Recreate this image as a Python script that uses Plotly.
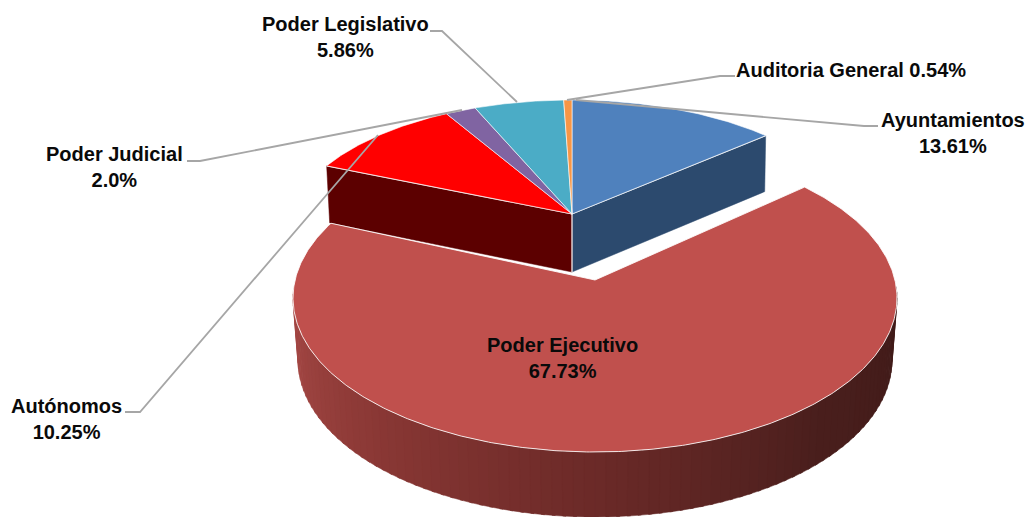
import numpy as np
import plotly.graph_objects as go

# ---- data (clockwise from the top) ----
categories = ["Ayuntamientos", "Poder Ejecutivo", "Autónomos", "Poder Judicial", "Poder Legislativo", "Auditoria General"]
values = [13.61, 67.73, 10.25, 2.0, 5.86, 0.54]
value_labels = ["13.61%", "67.73%", "10.25%", "2.0%", "5.86%", "0.54%"]
colors = ["#4f81bd", "#c0504d", "#ff0000", "#8064a2", "#4bacc6", "#f79646"]

# ---- drawing geometry (pixels) ----
BACK = dict(ax=572, ay=214, cx=572, cy=232, rx=283.5, ry=132)
FRONT = dict(ax=595, ay=280, cx=595, cy=298, rx=302, ry=154)
FRONT_BOTTOM = dict(cx=595, cy=360, rx=297, ry=157)
BACK_DEPTH = 57
EXPLODED = "Poder Ejecutivo"

label_pos = {
    "Ayuntamientos": (953, 133, "{}<br>{}"),
    "Poder Ejecutivo": (562, 358, "{}<br>{}"),
    "Autónomos": (66, 419, "{}<br>{}"),
    "Poder Judicial": (114, 167, "{}<br>{}"),
    "Poder Legislativo": (345, 37, "{}<br>{}"),
    "Auditoria General": (851, 70, "{} {}"),
}
leaders = [
    ([878, 864, 576], [126, 126, 100]),
    ([125, 140, 378], [412, 412, 135]),
    ([187, 200, 462], [161, 161, 110]),
    ([430, 442, 517], [31, 31, 102]),
    ([735, 720, 567], [76, 76, 100]),
]


def rim(phi_deg, g):
    """Where a ray leaving the apex at pie-angle phi meets the perspective ellipse."""
    phi = np.radians(phi_deg)
    dx, dy = np.sin(phi) * g["rx"], -np.cos(phi) * g["ry"]
    ox, oy = g["ax"] - g["cx"], g["ay"] - g["cy"]
    a = (dx / g["rx"]) ** 2 + (dy / g["ry"]) ** 2
    b = 2 * (ox * dx / g["rx"] ** 2 + oy * dy / g["ry"] ** 2)
    c = (ox / g["rx"]) ** 2 + (oy / g["ry"]) ** 2 - 1
    t = (-b + np.sqrt(b * b - 4 * a * c)) / (2 * a)
    return g["ax"] + t * dx, g["ay"] + t * dy


def wedge(start, end, g):
    phis = np.linspace(start, end, max(3, int(abs(end - start) * 2)))
    xs, ys = rim(phis, g)
    return [g["ax"], *xs, g["ax"]], [g["ay"], *ys, g["ay"]]


def poly(fig, xs, ys, fill, line=None, width=0):
    fig.add_trace(go.Scatter(
        x=xs, y=ys, mode="lines", fill="toself", fillcolor=fill,
        line=dict(color=line or fill, width=width if line else 0.5),
        hoverinfo="skip", showlegend=False))


total = sum(values)
edges = np.concatenate([[0], np.cumsum(values)]) / total * 360
spans = {c: (edges[i], edges[i + 1]) for i, c in enumerate(categories)}

fig = go.Figure()

# walls of the back group
b_start, b_end = spans["Ayuntamientos"][1], spans["Autónomos"][0]
x1, y1 = rim(b_start, BACK)
x2, y2 = rim(b_end, BACK)
apx, apy = BACK["ax"], BACK["ay"]
poly(fig, [apx, x1, x1 - 1, apx, apx], [apy, y1, y1 + BACK_DEPTH - 1, apy + BACK_DEPTH + 1, apy], "#2c4a6e")
poly(fig, [apx, x2, x2 + 3, apx, apx], [apy, y2, y2 + BACK_DEPTH, apy + BACK_DEPTH + 1, apy], "#5c0000")
fig.add_trace(go.Scatter(x=[x2, apx, x1], y=[y2, apy, y1], mode="lines",
                         line=dict(color="rgba(255,255,255,0.9)", width=1.2),
                         hoverinfo="skip", showlegend=False))
fig.add_trace(go.Scatter(x=[apx, apx], y=[apy, apy + BACK_DEPTH + 1], mode="lines",
                         line=dict(color="white", width=1.2), hoverinfo="skip", showlegend=False))

# top faces of the back group
for c, col in zip(categories, colors):
    if c == EXPLODED:
        continue
    xs, ys = wedge(*spans[c], BACK)
    poly(fig, xs, ys, col, "rgba(255,255,255,0.75)", 0.8)

# rim of the exploded slice: shaded strips, light at left, dark at right
n = 90
shade_stops = np.array([[168, 74, 71], [138, 56, 53], [107, 42, 40], [74, 31, 29], [64, 27, 25]])
for i in range(n):
    u0, u1 = i / n, (i + 1.3) / n
    # parameter measured from +x through the lower half of the ellipses
    a0, a1 = np.pi * (1.02 - 1.04 * u0), np.pi * (1.02 - 1.04 * u1)
    aa = np.linspace(a0, a1, 4)
    tx = FRONT["cx"] + FRONT["rx"] * np.cos(aa)
    ty = FRONT["cy"] + FRONT["ry"] * np.sin(aa)
    bx = FRONT_BOTTOM["cx"] + FRONT_BOTTOM["rx"] * np.cos(aa)
    by = FRONT_BOTTOM["cy"] + FRONT_BOTTOM["ry"] * np.sin(aa)
    k = u0 * (len(shade_stops) - 1)
    j = min(int(k), len(shade_stops) - 2)
    rgb = shade_stops[j] + (shade_stops[j + 1] - shade_stops[j]) * (k - j)
    col = "rgb({},{},{})".format(*rgb.astype(int))
    poly(fig, [*tx, *bx[::-1], tx[0]], [*ty, *by[::-1], ty[0]], col)

# exploded slice top
xs, ys = wedge(*spans[EXPLODED], FRONT)
poly(fig, xs, ys, colors[categories.index(EXPLODED)], "rgba(255,255,255,0.85)", 1)

# leader lines
for lx, ly in leaders:
    fig.add_trace(go.Scatter(x=lx, y=ly, mode="lines", line=dict(color="#a6a6a6", width=1.8),
                             hoverinfo="skip", showlegend=False))

# labels
for c, v in zip(categories, value_labels):
    px, py, tpl = label_pos[c]
    fig.add_annotation(x=px, y=py, xref="x", yref="y", text="<b>" + tpl.format(c, v) + "</b>",
                       showarrow=False, xanchor="center", yanchor="middle", align="center",
                       font=dict(family="Liberation Sans", size=20, color="#0a0a0a"))

fig.update_xaxes(range=[0, 1029], visible=False, fixedrange=True)
fig.update_yaxes(range=[517, 0], visible=False, fixedrange=True)
fig.update_layout(width=1029, height=517, margin=dict(l=0, r=0, t=0, b=0),
                  paper_bgcolor="white", plot_bgcolor="white", showlegend=False)
fig.write_html("out.html", post_script="document.body.style.margin='0';document.body.style.overflow='hidden';",
               config={"displayModeBar": False})
